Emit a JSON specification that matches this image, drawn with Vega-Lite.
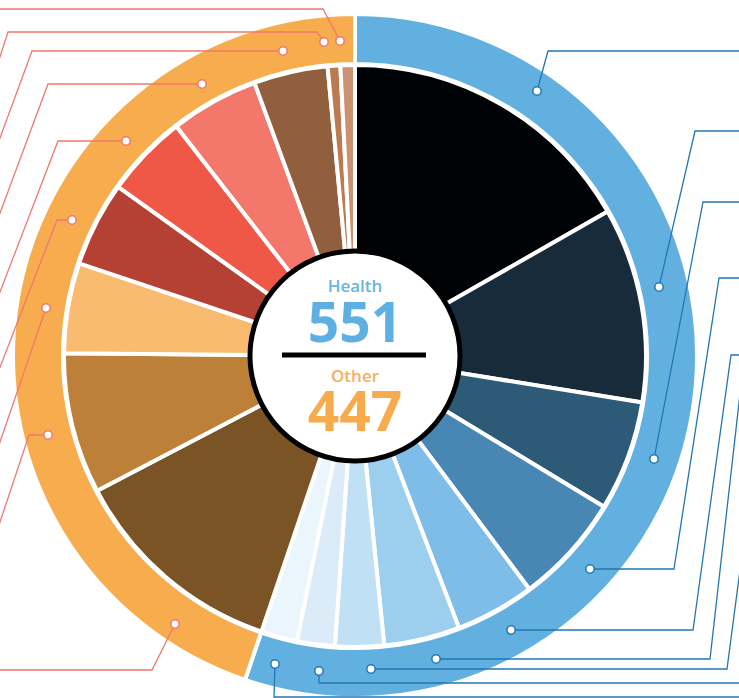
{
  "$schema": "https://vega.github.io/schema/vega-lite/v6.json",
  "width": 684,
  "height": 684,
  "autosize": {"type": "none"},
  "padding": {"left": 13, "top": 14, "right": 42, "bottom": 0},
  "background": "white",
  "config": {"view": {"stroke": null}},
  "datasets": {
    "totals": [
      {"group": "Health", "total": 551, "idx": 1},
      {"group": "Other", "total": 447, "idx": 2}
    ],
    "wedges": [
      {"cat": "Health 1", "group": "Health", "idx": 1, "value": 167},
      {"cat": "Health 2", "group": "Health", "idx": 2, "value": 108},
      {"cat": "Health 3", "group": "Health", "idx": 3, "value": 61},
      {"cat": "Health 4", "group": "Health", "idx": 4, "value": 61},
      {"cat": "Health 5", "group": "Health", "idx": 5, "value": 44},
      {"cat": "Health 6", "group": "Health", "idx": 6, "value": 42},
      {"cat": "Health 7", "group": "Health", "idx": 7, "value": 27},
      {"cat": "Health 8", "group": "Health", "idx": 8, "value": 21},
      {"cat": "Health 9", "group": "Health", "idx": 9, "value": 20},
      {"cat": "Other 1", "group": "Other", "idx": 10, "value": 121},
      {"cat": "Other 2", "group": "Other", "idx": 11, "value": 78},
      {"cat": "Other 3", "group": "Other", "idx": 12, "value": 50},
      {"cat": "Other 4", "group": "Other", "idx": 13, "value": 47},
      {"cat": "Other 5", "group": "Other", "idx": 14, "value": 46},
      {"cat": "Other 6", "group": "Other", "idx": 15, "value": 49},
      {"cat": "Other 7", "group": "Other", "idx": 16, "value": 41},
      {"cat": "Other 8", "group": "Other", "idx": 17, "value": 7},
      {"cat": "Other 9", "group": "Other", "idx": 18, "value": 8}
    ],
    "leaders": [
      {"id": "H1", "group": "Health", "i": 0, "u": 182, "v": 265},
      {"id": "H1", "group": "Health", "i": 1, "u": 193, "v": 305},
      {"id": "H1", "group": "Health", "i": 2, "u": 405, "v": 305},
      {"id": "H2", "group": "Health", "i": 0, "u": 304, "v": 69},
      {"id": "H2", "group": "Health", "i": 1, "u": 340, "v": 225},
      {"id": "H2", "group": "Health", "i": 2, "u": 405, "v": 225},
      {"id": "H3", "group": "Health", "i": 0, "u": 299, "v": -103},
      {"id": "H3", "group": "Health", "i": 1, "u": 348, "v": 154},
      {"id": "H3", "group": "Health", "i": 2, "u": 405, "v": 154},
      {"id": "H4", "group": "Health", "i": 0, "u": 235, "v": -213},
      {"id": "H4", "group": "Health", "i": 1, "u": 319, "v": -213},
      {"id": "H4", "group": "Health", "i": 2, "u": 364, "v": 78},
      {"id": "H4", "group": "Health", "i": 3, "u": 405, "v": 78},
      {"id": "H5", "group": "Health", "i": 0, "u": 156, "v": -274},
      {"id": "H5", "group": "Health", "i": 1, "u": 338, "v": -274},
      {"id": "H5", "group": "Health", "i": 2, "u": 376, "v": 1},
      {"id": "H5", "group": "Health", "i": 3, "u": 405, "v": 1},
      {"id": "H6", "group": "Health", "i": 0, "u": 81, "v": -303},
      {"id": "H6", "group": "Health", "i": 1, "u": 355, "v": -303},
      {"id": "H6", "group": "Health", "i": 2, "u": 405, "v": 139},
      {"id": "H7", "group": "Health", "i": 0, "u": 16, "v": -313},
      {"id": "H7", "group": "Health", "i": 1, "u": 372, "v": -313},
      {"id": "H7", "group": "Health", "i": 2, "u": 405, "v": -62},
      {"id": "H8", "group": "Health", "i": 0, "u": -36, "v": -315},
      {"id": "H8", "group": "Health", "i": 1, "u": -36, "v": -327},
      {"id": "H8", "group": "Health", "i": 2, "u": 405, "v": -327},
      {"id": "H9", "group": "Health", "i": 0, "u": -80, "v": -308},
      {"id": "H9", "group": "Health", "i": 1, "u": -81, "v": -341},
      {"id": "H9", "group": "Health", "i": 2, "u": 405, "v": -341},
      {"id": "O1", "group": "Other", "i": 0, "u": -180, "v": -268},
      {"id": "O1", "group": "Other", "i": 1, "u": -203, "v": -314},
      {"id": "O1", "group": "Other", "i": 2, "u": -365, "v": -314},
      {"id": "O2", "group": "Other", "i": 0, "u": -307, "v": -79},
      {"id": "O2", "group": "Other", "i": 1, "u": -326, "v": -79},
      {"id": "O2", "group": "Other", "i": 2, "u": -365, "v": -196},
      {"id": "O3", "group": "Other", "i": 0, "u": -309, "v": 48},
      {"id": "O3", "group": "Other", "i": 1, "u": -365, "v": -115},
      {"id": "O4", "group": "Other", "i": 0, "u": -283, "v": 136},
      {"id": "O4", "group": "Other", "i": 1, "u": -298, "v": 136},
      {"id": "O4", "group": "Other", "i": 2, "u": -365, "v": -37},
      {"id": "O5", "group": "Other", "i": 0, "u": -229, "v": 215},
      {"id": "O5", "group": "Other", "i": 1, "u": -297, "v": 215},
      {"id": "O5", "group": "Other", "i": 2, "u": -365, "v": 38},
      {"id": "O6", "group": "Other", "i": 0, "u": -153, "v": 272},
      {"id": "O6", "group": "Other", "i": 1, "u": -307, "v": 272},
      {"id": "O6", "group": "Other", "i": 2, "u": -365, "v": 116},
      {"id": "O7", "group": "Other", "i": 0, "u": -72, "v": 305},
      {"id": "O7", "group": "Other", "i": 1, "u": -323, "v": 305},
      {"id": "O7", "group": "Other", "i": 2, "u": -365, "v": 191},
      {"id": "O8", "group": "Other", "i": 0, "u": -31, "v": 314},
      {"id": "O8", "group": "Other", "i": 1, "u": -38, "v": 324},
      {"id": "O8", "group": "Other", "i": 2, "u": -347, "v": 324},
      {"id": "O8", "group": "Other", "i": 3, "u": -365, "v": 268},
      {"id": "O9", "group": "Other", "i": 0, "u": -15, "v": 315},
      {"id": "O9", "group": "Other", "i": 1, "u": -32, "v": 347},
      {"id": "O9", "group": "Other", "i": 2, "u": -365, "v": 347}
    ]
  },
  "layer": [
    {
      "data": {"name": "totals"},
      "mark": {"type": "arc", "outerRadius": 342, "innerRadius": 292, "stroke": "white", "strokeWidth": 4},
      "encoding": {
        "theta": {"field": "total", "type": "quantitative", "stack": true},
        "order": {"field": "idx", "type": "quantitative"},
        "color": {"field": "group", "type": "nominal", "legend": null,
          "scale": {"domain": ["Health", "Other"], "range": ["#62b0e0", "#f7ac4e"]}}
      }
    },
    {
      "data": {"name": "wedges"},
      "mark": {"type": "arc", "outerRadius": 291, "innerRadius": 100, "stroke": "white", "strokeWidth": 4},
      "encoding": {
        "theta": {"field": "value", "type": "quantitative", "stack": true},
        "order": {"field": "idx", "type": "quantitative"},
        "color": {"field": "cat", "type": "nominal", "legend": null,
          "scale": {
            "domain": ["Health 1", "Health 2", "Health 3", "Health 4", "Health 5", "Health 6", "Health 7", "Health 8", "Health 9",
                       "Other 1", "Other 2", "Other 3", "Other 4", "Other 5", "Other 6", "Other 7", "Other 8", "Other 9"],
            "range": ["#000306", "#172b3a", "#2d5a76", "#4887b3", "#7dbde8", "#9ccfee", "#c0e0f5", "#dbebf8", "#ebf5fc",
                      "#7b5426", "#bc8038", "#f9bb6f", "#b54134", "#ef5847", "#f3776b", "#915f3e", "#bb7a4f", "#cb9171"]
          }}
      }
    },
    {
      "data": {"name": "leaders"},
      "mark": {"type": "line", "strokeWidth": 1.3},
      "encoding": {
        "x": {"field": "u", "type": "quantitative", "axis": null, "scale": {"domain": [-342, 342], "nice": false, "zero": false}},
        "y": {"field": "v", "type": "quantitative", "axis": null, "scale": {"domain": [-342, 342], "nice": false, "zero": false}},
        "detail": {"field": "id", "type": "nominal"},
        "order": {"field": "i", "type": "quantitative"},
        "color": {"field": "group", "type": "nominal", "legend": null,
          "scale": {"domain": ["Health", "Other"], "range": ["#2277b3", "#f2786c"]}}
      }
    },
    {
      "data": {"name": "leaders"},
      "transform": [{"filter": "datum.i === 0"}],
      "mark": {"type": "point", "filled": true, "fill": "white", "opacity": 1, "size": 70, "strokeWidth": 1.5},
      "encoding": {
        "x": {"field": "u", "type": "quantitative", "axis": null, "scale": {"domain": [-342, 342], "nice": false, "zero": false}},
        "y": {"field": "v", "type": "quantitative", "axis": null, "scale": {"domain": [-342, 342], "nice": false, "zero": false}},
        "stroke": {"field": "group", "type": "nominal", "legend": null,
          "scale": {"domain": ["Health", "Other"], "range": ["#2277b3", "#f2786c"]}}
      }
    },
    {
      "data": {"values": [{"part": "center"}]},
      "mark": {"type": "arc", "theta": 0, "theta2": 6.2832, "outerRadius": 105, "innerRadius": 0, "fill": "white", "stroke": "black", "strokeWidth": 5},
      "encoding": {}
    },
    {
      "data": {"values": [{"part": "divider"}]},
      "mark": {"type": "rule", "color": "black", "strokeWidth": 5},
      "encoding": {
        "x": {"datum": -73, "type": "quantitative", "axis": null, "scale": {"domain": [-342, 342], "nice": false, "zero": false}},
        "x2": {"datum": 71},
        "y": {"datum": 1, "type": "quantitative", "axis": null, "scale": {"domain": [-342, 342], "nice": false, "zero": false}}
      }
    },
    {
      "data": {"name": "totals"},
      "transform": [{"filter": "datum.group === 'Health'"}],
      "mark": {"type": "text", "align": "center", "baseline": "alphabetic", "font": "Open Sans", "fontSize": 17, "fontWeight": 600, "color": "#6ab4e3"},
      "encoding": {
        "text": {"field": "group"},
        "x": {"datum": 0, "type": "quantitative", "axis": null, "scale": {"domain": [-342, 342], "nice": false, "zero": false}},
        "y": {"datum": 64, "type": "quantitative", "axis": null, "scale": {"domain": [-342, 342], "nice": false, "zero": false}}
      }
    },
    {
      "data": {"name": "totals"},
      "transform": [{"filter": "datum.group === 'Health'"}],
      "mark": {"type": "text", "align": "center", "baseline": "alphabetic", "font": "Open Sans", "fontSize": 55, "fontWeight": "bold", "color": "#5fb0e2"},
      "encoding": {
        "text": {"field": "total"},
        "x": {"datum": 0, "type": "quantitative", "axis": null, "scale": {"domain": [-342, 342], "nice": false, "zero": false}},
        "y": {"datum": 14, "type": "quantitative", "axis": null, "scale": {"domain": [-342, 342], "nice": false, "zero": false}}
      }
    },
    {
      "data": {"name": "totals"},
      "transform": [{"filter": "datum.group === 'Other'"}],
      "mark": {"type": "text", "align": "center", "baseline": "alphabetic", "font": "Open Sans", "fontSize": 17, "fontWeight": 600, "color": "#f8b05a"},
      "encoding": {
        "text": {"field": "group"},
        "x": {"datum": 0, "type": "quantitative", "axis": null, "scale": {"domain": [-342, 342], "nice": false, "zero": false}},
        "y": {"datum": -26, "type": "quantitative", "axis": null, "scale": {"domain": [-342, 342], "nice": false, "zero": false}}
      }
    },
    {
      "data": {"name": "totals"},
      "transform": [{"filter": "datum.group === 'Other'"}],
      "mark": {"type": "text", "align": "center", "baseline": "alphabetic", "font": "Open Sans", "fontSize": 55, "fontWeight": "bold", "color": "#f7ab4c"},
      "encoding": {
        "text": {"field": "total"},
        "x": {"datum": 0, "type": "quantitative", "axis": null, "scale": {"domain": [-342, 342], "nice": false, "zero": false}},
        "y": {"datum": -75, "type": "quantitative", "axis": null, "scale": {"domain": [-342, 342], "nice": false, "zero": false}}
      }
    }
  ],
  "resolve": {"scale": {"theta": "independent", "color": "independent", "stroke": "independent"}}
}
